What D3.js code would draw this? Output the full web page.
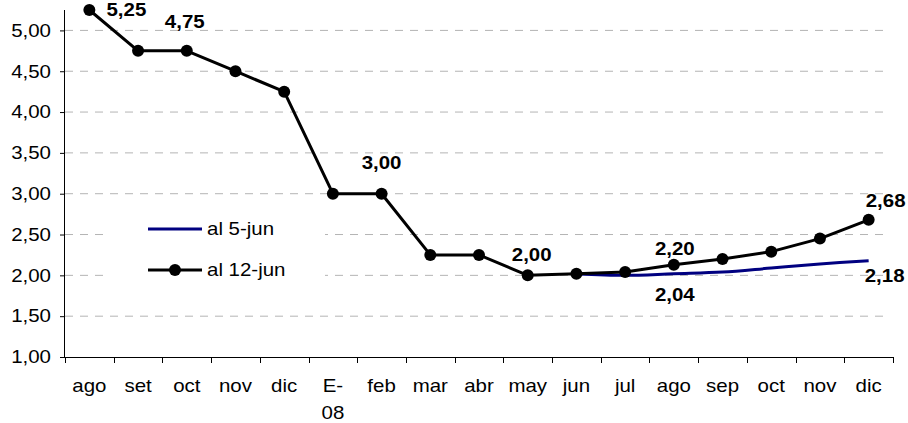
<!DOCTYPE html>
<html>
<head>
<meta charset="utf-8">
<script src="https://cdn.jsdelivr.net/npm/d3@7"></script>
<style>
  body { margin: 0; background: #fff; }
  svg { display: block; }
</style>
</head>
<body>
<div id="chart"></div>
<script>
// month labels (E-08 is wrapped on two lines)
const months = ['ago', 'set', 'oct', 'nov', 'dic', 'E-|08', 'feb', 'mar', 'abr',
  'may', 'jun', 'jul', 'ago', 'sep', 'oct', 'nov', 'dic'];
// survey of 12-jun
const al12jun = [5.25, 4.75, 4.75, 4.50, 4.25, 3.00, 3.00, 2.25, 2.25,
  2.00, 2.02, 2.04, 2.13, 2.20, 2.29, 2.45, 2.68];
// survey of 5-jun (only forecast part visible)
const al5jun = [null, null, null, null, null, null, null, null, null,
  null, 2.02, 2.00, 2.02, 2.04, 2.09, 2.14, 2.18];
const yTicks = [1, 1.5, 2, 2.5, 3, 3.5, 4, 4.5, 5];
// data labels: month index, series, text
const labels = [
  { i: 0, s: '12', text: '5,25' },
  { i: 2, s: '12', text: '4,75' },
  { i: 6, s: '12', text: '3,00' },
  { i: 9, s: '12', text: '2,00' },
  { i: 12, s: '12', text: '2,20' },
  { i: 12, s: '5', text: '2,04' },
  { i: 16, s: '12', text: '2,68' },
  { i: 16, s: '5', text: '2,18' }
];
// label offsets from their point (px)
const labelOffsets = [[37, 0], [-2, -29], [0, -31], [4, -21], [1, -16], [1, 21], [17, -19], [16, 15]];

const width = 908, height = 423;
const mLeft = 65, mRight = 893, mTop = 10, mBottom = 357;
const sx = 1.17;  // text is drawn a bit wide in the original
const fs = 17.5;
const font = 'Liberation Sans, Arial, sans-serif';

const svg = d3.select('#chart').append('svg')
  .attr('width', width).attr('height', height);

const x = d3.scaleBand().domain(d3.range(months.length)).range([mLeft, mRight]);
const y = d3.scaleLinear().domain([1, 5.25]).range([mBottom, mTop]);
const cx = i => x(i) + x.bandwidth() / 2;

function wideText(g, tx, ty, str, anchor, weight) {
  return g.append('text')
    .attr('transform', `translate(${tx},${ty}) scale(${sx},1)`)
    .attr('text-anchor', anchor)
    .attr('font-family', font)
    .attr('font-size', fs)
    .attr('font-weight', weight || 'normal')
    .attr('fill', '#000')
    .text(str);
}

// gridlines
svg.append('g').selectAll('line')
  .data(yTicks.filter(d => d > 1))
  .join('line')
  .attr('x1', mLeft).attr('x2', mRight - 5)
  .attr('y1', d => y(d)).attr('y2', d => y(d))
  .attr('stroke', '#b4b4b4')
  .attr('stroke-width', 1)
  .attr('stroke-dasharray', '8,7');

// legend box (hides gridlines behind it)
svg.append('rect')
  .attr('x', 103).attr('y', 205).attr('width', 222).attr('height', 95)
  .attr('fill', '#fff');

// y axis
const yAxis = svg.append('g')
  .attr('transform', `translate(${mLeft},0)`)
  .call(d3.axisLeft(y).tickValues(yTicks).tickSize(5).tickFormat(''));
yAxis.select('.domain').attr('d', `M-0.5,${mTop}V${mBottom}`).attr('stroke', '#000');
yAxis.selectAll('.tick line').attr('stroke', '#000');
yTicks.forEach(t => {
  wideText(svg, 51, y(t) + 6.3, d3.format('.2f')(t).replace('.', ','), 'end');
});

// x axis, ticks on category boundaries
const xAxis = svg.append('g').attr('transform', `translate(0,${mBottom})`);
xAxis.append('line')
  .attr('x1', mLeft).attr('x2', mRight).attr('y1', 0.5).attr('y2', 0.5)
  .attr('stroke', '#000');
xAxis.selectAll('.tk')
  .data(d3.range(months.length + 1))
  .join('line')
  .attr('x1', i => Math.round(i < months.length ? x(i) : mRight) + 0.5)
  .attr('x2', i => Math.round(i < months.length ? x(i) : mRight) + 0.5)
  .attr('y1', 0).attr('y2', 6)
  .attr('stroke', '#000');
months.forEach((m, i) => {
  m.split('|').forEach((part, k) => {
    wideText(svg, cx(i), 392 + k * 27, part, 'middle');
  });
});

// blue series (smoothed)
const blueLine = d3.line()
  .defined(d => d != null)
  .x((d, i) => cx(i)).y(d => y(d))
  .curve(d3.curveCatmullRom.alpha(0.5));
svg.append('path')
  .attr('d', blueLine(al5jun))
  .attr('fill', 'none')
  .attr('stroke', '#000080')
  .attr('stroke-width', 3);

// black series with markers
const blackLine = d3.line().x((d, i) => cx(i)).y(d => y(d));
svg.append('path')
  .attr('d', blackLine(al12jun))
  .attr('fill', 'none')
  .attr('stroke', '#000')
  .attr('stroke-width', 3)
  .attr('stroke-linejoin', 'round');
svg.append('g').selectAll('circle')
  .data(al12jun)
  .join('circle')
  .attr('cx', (d, i) => cx(i))
  .attr('cy', d => y(d))
  .attr('r', 6)
  .attr('fill', '#000');

// data labels
labels.forEach((l, k) => {
  const v = l.s === '12' ? al12jun[l.i] : al5jun[l.i];
  const [dx, dy] = labelOffsets[k];
  wideText(svg, cx(l.i) + dx, y(v) + dy + 6.3, l.text, 'middle', 'bold');
});

// legend
const lg = svg.append('g');
lg.append('line').attr('x1', 148).attr('x2', 202).attr('y1', 229).attr('y2', 229)
  .attr('stroke', '#000080').attr('stroke-width', 3);
wideText(lg, 207, 235.3, 'al 5-jun', 'start');
lg.append('line').attr('x1', 148).attr('x2', 202).attr('y1', 270).attr('y2', 270)
  .attr('stroke', '#000').attr('stroke-width', 3);
lg.append('circle').attr('cx', 175).attr('cy', 270).attr('r', 6).attr('fill', '#000');
wideText(lg, 207, 276.3, 'al 12-jun', 'start');
</script>
</body>
</html>
